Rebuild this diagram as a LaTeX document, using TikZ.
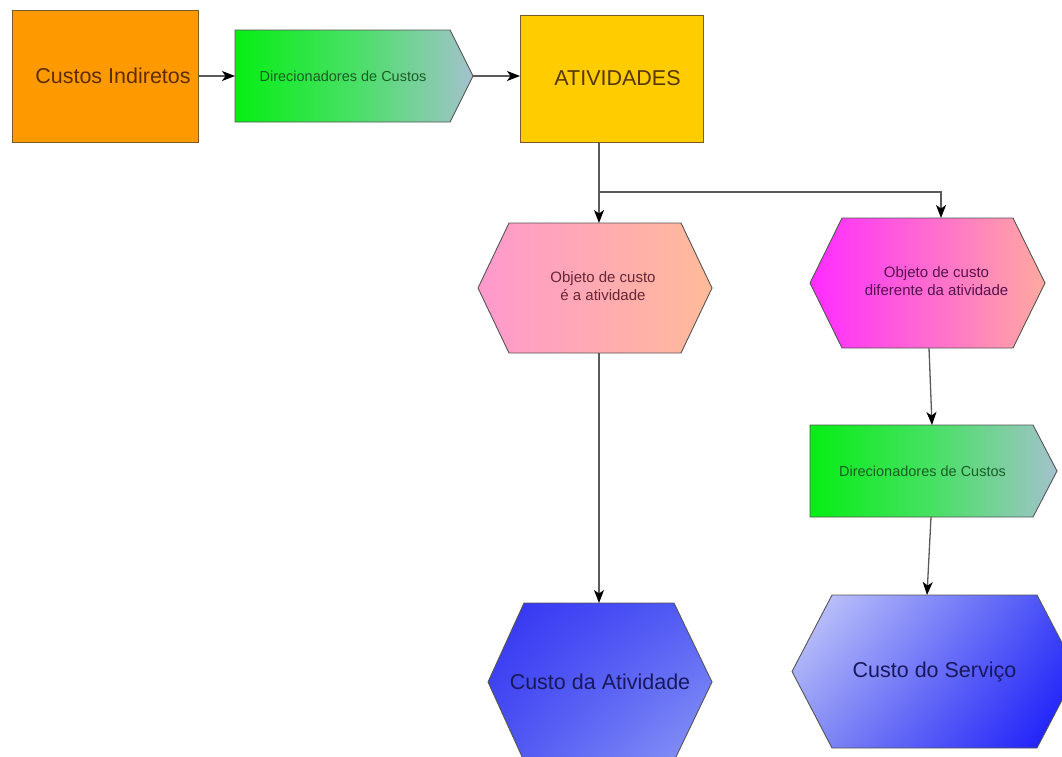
\documentclass[tikz,border=0pt]{standalone}
\usepackage{fontspec}
\setmainfont{Liberation Sans}
\usetikzlibrary{arrows.meta,backgrounds,shadings}

% fills
\definecolor{ciFill}{HTML}{FF9900}
\definecolor{atFill}{HTML}{FFCC00}
\definecolor{dirL}{HTML}{06EE14}
\definecolor{dirM}{HTML}{48E065}
\definecolor{dirR}{HTML}{A3C2CC}
\definecolor{hOneL}{HTML}{FF99CC}
\definecolor{hOneR}{HTML}{FFBB99}
\definecolor{hTwoL}{HTML}{FF2BFF}
\definecolor{hTwoR}{HTML}{FFAAA0}
\definecolor{hThreeUL}{HTML}{3232F2}
\definecolor{hThreeUR}{HTML}{5560F4}
\definecolor{hThreeLL}{HTML}{4A52F2}
\definecolor{hThreeLR}{HTML}{8C98F6}
\definecolor{hFourUL}{HTML}{CDD2FA}
\definecolor{hFourUR}{HTML}{3D45F6}
\definecolor{hFourLL}{HTML}{8A92F4}
\definecolor{hFourLR}{HTML}{1212FA}
% text colours
\definecolor{ciText}{HTML}{5E2E00}
\definecolor{atText}{HTML}{553800}
\definecolor{dirText}{HTML}{1A5E24}
\definecolor{hOneText}{HTML}{662636}
\definecolor{hTwoText}{HTML}{581050}
\definecolor{blueText}{HTML}{18185E}
% strokes
\definecolor{warmEdge}{HTML}{7A5A2A}
\definecolor{edge}{HTML}{555555}
\definecolor{wire}{HTML}{5A5A5A}

\begin{document}
\begin{tikzpicture}[x=1pt,y=-1pt,
  flowbox/.style={inner sep=0pt, outer sep=0pt},
  bigtext/.style={font=\fontsize{21.5}{25}\selectfont},
  smalltext/.style={font=\fontsize{14.5}{18}\selectfont},
  midtext/.style={font=\fontsize{15}{18}\selectfont},
  outline/.style={draw=edge, line width=0.9pt, line join=miter},
  arr/.style={draw=wire, line width=1.3pt,
    -{Stealth[length=13pt,width=10pt,inset=3.5pt,color=black]}}]

\useasboundingbox (0,0) rectangle (1062,756);

% ---- nodes (text carriers, sized like their shapes) ----
\node[flowbox, bigtext, text=ciText, minimum width=186, minimum height=132]
  (ci) at (105,76) {\hspace*{16pt}Custos Indiretos};
\node[flowbox, smalltext, text=dirText, minimum width=238, minimum height=92]
  (d1) at (354,76) {Direcionadores de Custos\hspace*{22pt}};
\node[flowbox, bigtext, text=atText, minimum width=183, minimum height=127]
  (at) at (611.5,78.5) {\hspace*{12pt}ATIVIDADES};
\node[flowbox, midtext, text=hOneText, minimum width=234, minimum height=130]
  (h1) at (595,288) {\hspace*{16pt}\begin{tabular}{@{}c@{}}Objeto de custo\\ é a atividade\end{tabular}};
\node[flowbox, midtext, text=hTwoText, minimum width=235, minimum height=130]
  (h2) at (927.5,283) {\hspace*{18pt}\begin{tabular}{@{}c@{}}Objeto de custo\\diferente da atividade\end{tabular}};
\node[flowbox, smalltext, text=dirText, minimum width=247, minimum height=92]
  (d2) at (933.5,471) {Direcionadores de Custos\hspace*{22pt}};
\node[flowbox, bigtext, text=blueText, minimum width=224, minimum height=158]
  (h3) at (600,682) {Custo da Atividade};
\node[flowbox, bigtext, text=blueText, minimum width=285, minimum height=153]
  (h4) at (934.5,671.5) {Custo do Serviço};

\coordinate (split) at (599,192);

% ---- shapes behind the text ----
\begin{scope}[on background layer]
  \filldraw[fill=ciFill, draw=warmEdge, line width=0.9pt]
    (ci.north west) rectangle (ci.south east);
  \filldraw[fill=atFill, draw=warmEdge, line width=0.9pt]
    (at.north west) rectangle (at.south east);
  % pointed "driver" boxes
  \shadedraw[outline, left color=dirL, right color=dirR, middle color=dirM]
    (d1.north west) -- ([xshift=-23]d1.north east) -- (d1.east)
    -- ([xshift=-23]d1.south east) -- (d1.south west) -- cycle;
  \shadedraw[outline, left color=dirL, right color=dirR, middle color=dirM]
    (d2.north west) -- ([xshift=-24]d2.north east) -- (d2.east)
    -- ([xshift=-24]d2.south east) -- (d2.south west) -- cycle;
  % hexagons
  \shadedraw[outline, left color=hOneL, right color=hOneR]
    (h1.west) -- ([xshift=31]h1.north west) -- ([xshift=-31]h1.north east)
    -- (h1.east) -- ([xshift=-31]h1.south east) -- ([xshift=31]h1.south west) -- cycle;
  \shadedraw[outline, left color=hTwoL, right color=hTwoR]
    (h2.west) -- ([xshift=32]h2.north west) -- ([xshift=-32]h2.north east)
    -- (h2.east) -- ([xshift=-32]h2.south east) -- ([xshift=32]h2.south west) -- cycle;
  \shadedraw[outline, upper left=hThreeUL, upper right=hThreeUR,
             lower left=hThreeLL, lower right=hThreeLR]
    (h3.west) -- ([xshift=36]h3.north west) -- ([xshift=-38]h3.north east)
    -- (h3.east) -- ([xshift=-38]h3.south east) -- ([xshift=36]h3.south west) -- cycle;
  \shadedraw[outline, upper left=hFourUL, upper right=hFourUR,
             lower left=hFourLL, lower right=hFourLR]
    (h4.west) -- ([xshift=40]h4.north west) -- ([xshift=-40]h4.north east)
    -- (h4.east) -- ([xshift=-40]h4.south east) -- ([xshift=40]h4.south west) -- cycle;
\end{scope}

% ---- connectors ----
\draw[arr] (ci.east) -- (d1.west);
\draw[arr] (d1.east) -- (d1.east -| at.west);
\draw[arr] (at.south -| split) -- (h1.north -| split);
\draw[arr] (split) -| ([xshift=13.5]h2.north);
\draw[arr] ([xshift=1.5]h2.south) -- ([xshift=-1.5]d2.north);
\draw[arr] (h1.south -| split) -- (h3.north -| split);
\draw[arr] ([xshift=-2.5]d2.south) -- ([xshift=-7.5]h4.north);

\end{tikzpicture}
\end{document}
